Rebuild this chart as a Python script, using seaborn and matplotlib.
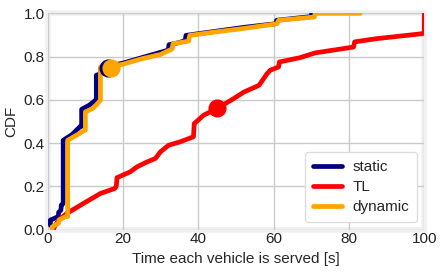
import numpy as np
import pandas as pd
import matplotlib
matplotlib.use('Agg')
import matplotlib.pyplot as plt
import seaborn as sns

# CDF curves (x = time [s], y = cumulative fraction)
static_x = [0.7, 0.7, 2.8, 2.9, 3.5, 3.6, 4.1, 4.1, 6.5, 8.7, 9.0, 9.0, 11.0, 12.7, 12.9, 12.9,
            14.0, 14.0, 16.0, 20.0, 25.0, 28.0, 32.0, 32.2, 35.0, 36.5, 36.7, 45.0, 52.0, 60.5,
            60.8, 70.0, 70.1, 70.5]
static_y = [0.02, 0.044, 0.06, 0.08, 0.09, 0.113, 0.12, 0.413, 0.44, 0.478, 0.478, 0.556, 0.575,
            0.598, 0.6, 0.714, 0.72, 0.745, 0.755, 0.77, 0.795, 0.81, 0.83, 0.855, 0.865, 0.875,
            0.898, 0.918, 0.935, 0.952, 0.968, 0.985, 1.0, 1.0]

tl_x = [1.5, 1.7, 2.9, 5.1, 9.5, 14.0, 17.8, 18.2, 18.4, 21.9, 23.7, 26.4, 28.6, 29.9, 32.1,
        35.2, 38.7, 38.9, 41.4, 45.0, 49.4, 52.1, 56.1, 58.2, 59.1, 61.3, 61.5, 67.0, 71.0,
        81.2, 81.5, 87.4, 99.5, 100.0, 100.0]
tl_y = [0.0, 0.01, 0.044, 0.075, 0.121, 0.167, 0.19, 0.2, 0.24, 0.267, 0.29, 0.313, 0.329,
        0.359, 0.39, 0.406, 0.429, 0.49, 0.529, 0.56, 0.606, 0.636, 0.667, 0.72, 0.737, 0.752,
        0.775, 0.795, 0.817, 0.844, 0.868, 0.883, 0.906, 0.91, 1.0]

dynamic_x = [1.2, 1.2, 2.9, 3.0, 4.8, 5.3, 5.3, 8.0, 9.8, 10.0, 10.0, 12.0, 14.0, 14.0, 17.0,
             20.0, 25.0, 30.0, 33.0, 33.3, 37.4, 37.7, 45.0, 52.0, 60.9, 61.3, 70.8, 71.0, 83.0]
dynamic_y = [0.0, 0.013, 0.03, 0.044, 0.06, 0.06, 0.413, 0.44, 0.46, 0.46, 0.544, 0.56, 0.598,
             0.752, 0.755, 0.765, 0.79, 0.81, 0.835, 0.86, 0.871, 0.898, 0.915, 0.93, 0.952,
             0.968, 0.983, 1.0, 1.0]

# mean markers
series = ['static', 'TL', 'dynamic']
mean_x = [16.1, 45.0, 16.8]
mean_y = [0.748, 0.56, 0.745]
colors = {'static': '#000080', 'TL': '#ff0000', 'dynamic': '#ffa500'}

sns.set_style("whitegrid")
plt.rcParams['font.family'] = ['Liberation Sans', 'DejaVu Sans']

fig, ax = plt.subplots(figsize=(4.42, 2.72), dpi=100)
fig.subplots_adjust(left=0.108, right=0.96, top=0.951, bottom=0.156)

curves = {'static': (static_x, static_y), 'TL': (tl_x, tl_y), 'dynamic': (dynamic_x, dynamic_y)}
for i, name in enumerate(series):
    xs, ys = curves[name]
    sns.lineplot(x=xs, y=ys, sort=False, estimator=None, color=colors[name],
                 linewidth=3.4, label=name, ax=ax)
    sns.scatterplot(x=[mean_x[i]], y=[mean_y[i]], color=colors[name], s=170,
                    linewidth=0, ax=ax, zorder=3)

ax.set_xlim(0, 100)
ax.set_ylim(0, 1.0)
ax.set_xticks([0, 20, 40, 60, 80, 100])
ax.set_yticks([0.0, 0.2, 0.4, 0.6, 0.8, 1.0])
ax.set_yticklabels(['0.0', '0.2', '0.4', '0.6', '0.8', '1.0'])
ax.tick_params(axis='both', length=0, pad=2, labelsize=11, colors='#222222')
ax.grid(True, color='#cbcbcb', linewidth=1)
ax.set_axisbelow(True)
for sp in ax.spines.values():
    sp.set_color('#f0f0f0')
    sp.set_linewidth(4)
    sp.set_zorder(0.5)
ax.set_xlabel('Time each vehicle is served [s]', fontsize=11, labelpad=4)
ax.set_ylabel('CDF', fontsize=11, labelpad=4)

leg = ax.legend(loc='lower right', fontsize=11, frameon=True, handlelength=1.9,
                borderpad=0.5, labelspacing=0.4, handletextpad=0.7)
leg.get_frame().set_edgecolor('#dddddd')
leg.get_frame().set_facecolor('white')
leg.get_frame().set_alpha(1.0)

fig.savefig('out.png', dpi=100)
